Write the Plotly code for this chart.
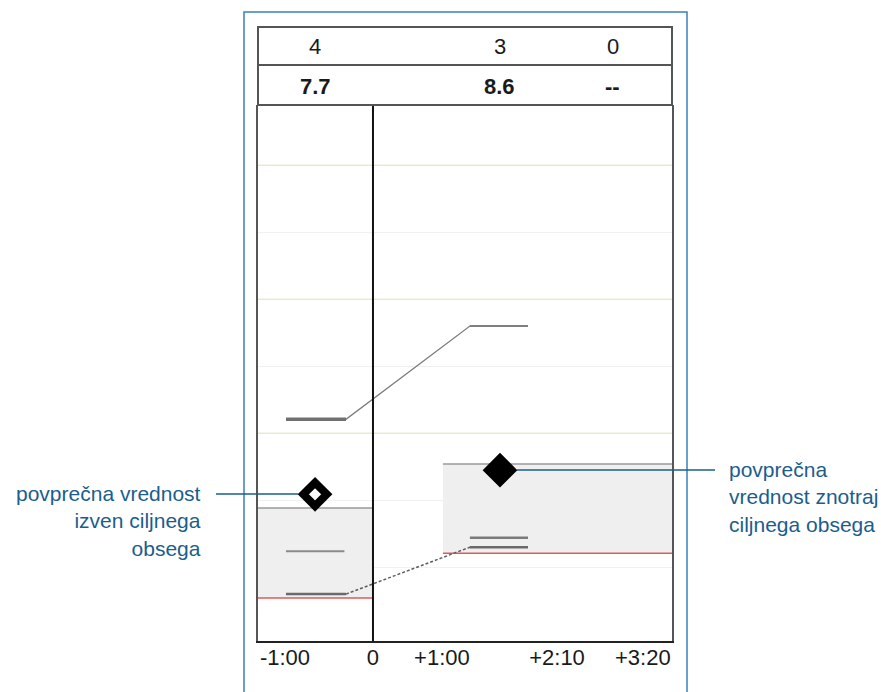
import plotly.graph_objects as go

# ---------------- data ----------------
TICK_POS = [-60, 0, 47, 125.5, 184]
TICK_TEXT = ["-1:00", "0", "+1:00", "+2:10", "+3:20"]

COL_X = [-39.5, 86.6, 163.6]
COUNTS = ["4", "3", "0"]
MEANS = ["7.7", "8.6", "--"]

UPPER_X = [-59.3, -18.4, 66.1, 105.7]
UPPER_Y = [3.21, 3.21, 4.60, 4.60]
LOWER_X = [-59.3, -18.4, 66.1, 105.7]
LOWER_Y = [0.60, 0.60, 1.30, 1.30]
MID_LEFT_X = [-59.3, -19.5]
MID_LEFT_Y = [1.24, 1.24]
EXTRA_RIGHT_X = [66.1, 105.7]
EXTRA_RIGHT_Y = [1.44, 1.44]

BAND_X0 = [-78.4, 47.7]
BAND_X1 = [0, 203.9]
BAND_LOW = [0.54, 1.21]
BAND_HIGH = [1.885, 2.54]

DIAMOND_X = [-39.5, 86.6]
DIAMOND_Y = [2.09, 2.45]
DIAMOND_FILL = ["white", "black"]

MAJOR_GRID = [3, 5, 7]
MINOR_GRID = [1, 2, 4, 6]

X_RANGE = [-78.4, 203.9]
Y_RANGE = [-0.1, 7.9]

LEFT_LABEL = "povprečna vrednost<br>izven ciljnega<br>obsega"
RIGHT_LABEL = "povprečna<br>vrednost znotraj<br>ciljnega obsega"

# ---------------- layout helpers ----------------
OFF = 0  # body margin removed via post_script
W, H = 881, 692
ML, MT = 258, 105
PW, PH = 414, 536
MR = W - ML - PW
MB = H - MT - PH


def px_x(p):
    return (p - OFF - ML) / PW


def px_y(p):
    return (MT + PH - (p - OFF)) / PH


FONT = "Liberation Sans, Arial, sans-serif"
BLUE_TEXT = "#1b5e8c"
BLUE_BOX = "#3a80b8"
GREY_LINE = "#7a7a7a"

fig = go.Figure()

shapes = []
for g in MAJOR_GRID:
    shapes.append(dict(type="line", xref="paper", yref="y", x0=0, x1=1, y0=g, y1=g,
                       line=dict(color="#e9e9d2", width=1.5), layer="below"))
for x0, x1, lo, hi in zip(BAND_X0, BAND_X1, BAND_LOW, BAND_HIGH):
    shapes.append(dict(type="rect", xref="x", yref="y", x0=x0, x1=x1, y0=lo, y1=hi,
                       fillcolor="#efefef", line=dict(width=0), layer="below"))
    shapes.append(dict(type="line", xref="x", yref="y", x0=x0, x1=x1, y0=hi, y1=hi,
                       line=dict(color="#9a9a9a", width=1.5), layer="below"))
    shapes.append(dict(type="line", xref="x", yref="y", x0=x0, x1=x1, y0=lo, y1=lo,
                       line=dict(color="#e05a5a", width=1.5), layer="below"))

shapes.append(dict(type="line", xref="x", yref="paper", x0=0, x1=0, y0=0, y1=1,
                   line=dict(color="#111111", width=2)))

shapes.append(dict(type="rect", xref="paper", yref="paper", x0=0, x1=1,
                   y0=1, y1=px_y(27), line=dict(color="#555555", width=2)))
shapes.append(dict(type="line", xref="paper", yref="paper", x0=0, x1=1,
                   y0=px_y(65), y1=px_y(65), line=dict(color="#555555", width=2)))

shapes.append(dict(type="rect", xref="paper", yref="paper", x0=px_x(244), x1=px_x(687),
                   y0=px_y(705), y1=px_y(12), line=dict(color=BLUE_BOX, width=1.5)))

shapes.append(dict(type="line", xref="paper", yref="paper", x0=px_x(216), x1=px_x(298),
                   y0=px_y(494), y1=px_y(494), line=dict(color=BLUE_TEXT, width=1.5)))
shapes.append(dict(type="line", xref="paper", yref="paper", x0=px_x(517), x1=px_x(715),
                   y0=px_y(470), y1=px_y(470), line=dict(color=BLUE_TEXT, width=1.5)))

fig.add_trace(go.Scatter(x=UPPER_X, y=UPPER_Y, mode="lines",
                         line=dict(color=GREY_LINE, width=1.3), hoverinfo="skip"))
fig.add_trace(go.Scatter(x=UPPER_X[:2], y=UPPER_Y[:2], mode="lines",
                         line=dict(color="#707070", width=3.5), hoverinfo="skip"))
fig.add_trace(go.Scatter(x=UPPER_X[2:], y=UPPER_Y[2:], mode="lines",
                         line=dict(color="#808080", width=2), hoverinfo="skip"))
fig.add_trace(go.Scatter(x=LOWER_X, y=LOWER_Y, mode="lines",
                         line=dict(color="#5e5e5e", width=1.5, dash="3px,2px"), hoverinfo="skip"))
fig.add_trace(go.Scatter(x=LOWER_X[:2], y=LOWER_Y[:2], mode="lines",
                         line=dict(color="#6a6a6a", width=2.5), hoverinfo="skip"))
fig.add_trace(go.Scatter(x=LOWER_X[2:], y=LOWER_Y[2:], mode="lines",
                         line=dict(color="#6a6a6a", width=2.5), hoverinfo="skip"))
fig.add_trace(go.Scatter(x=MID_LEFT_X, y=MID_LEFT_Y, mode="lines",
                         line=dict(color="#8a8a8a", width=2), hoverinfo="skip"))
fig.add_trace(go.Scatter(x=EXTRA_RIGHT_X, y=EXTRA_RIGHT_Y, mode="lines",
                         line=dict(color="#7a7a7a", width=2.5), hoverinfo="skip"))
fig.add_trace(go.Scatter(x=DIAMOND_X, y=DIAMOND_Y, mode="markers",
                         marker=dict(symbol="diamond", size=18, color=DIAMOND_FILL,
                                     line=dict(color="black", width=8)),
                         hoverinfo="skip"))

annotations = []
for x, c, m in zip(COL_X, COUNTS, MEANS):
    annotations.append(dict(x=x, y=px_y(46), xref="x", yref="paper", text=c, showarrow=False,
                            font=dict(family=FONT, size=22, color="#1a1a1a"),
                            xanchor="center", yanchor="middle"))
    annotations.append(dict(x=x, y=px_y(86), xref="x", yref="paper", text="<b>" + m + "</b>",
                            showarrow=False, font=dict(family=FONT, size=22, color="#1a1a1a"),
                            xanchor="center", yanchor="middle"))

annotations.append(dict(x=px_x(203), y=px_y(521), xref="paper", yref="paper", text=LEFT_LABEL,
                        showarrow=False, align="right", xanchor="right", yanchor="middle",
                        font=dict(family=FONT, size=21, color=BLUE_TEXT)))
annotations.append(dict(x=px_x(727), y=px_y(497), xref="paper", yref="paper", text=RIGHT_LABEL,
                        showarrow=False, align="left", xanchor="left", yanchor="middle",
                        font=dict(family=FONT, size=21, color=BLUE_TEXT)))

fig.update_layout(
    width=W, height=H, autosize=False,
    margin=dict(l=ML, r=MR, t=MT, b=MB),
    paper_bgcolor="white", plot_bgcolor="white",
    showlegend=False,
    shapes=shapes,
    annotations=annotations,
    xaxis=dict(range=X_RANGE, tickvals=TICK_POS, ticktext=TICK_TEXT, showgrid=False,
               zeroline=False, showline=True, linecolor="#222222", linewidth=2,
               ticks="", ticklabelstandoff=-4,
               tickfont=dict(family=FONT, size=22, color="#1a1a1a"), fixedrange=True),
    yaxis=dict(range=Y_RANGE, tickvals=MINOR_GRID, showticklabels=False, showgrid=True,
               gridcolor="#f0f0f0", gridwidth=1, zeroline=False, showline=True, mirror=True,
               linecolor="#555555", linewidth=2, ticks="", fixedrange=True),
)

fig.write_html(
    "out.html",
    config={"displayModeBar": False},
    post_script="document.body.style.margin='0px';document.body.style.overflow='hidden';",
)
